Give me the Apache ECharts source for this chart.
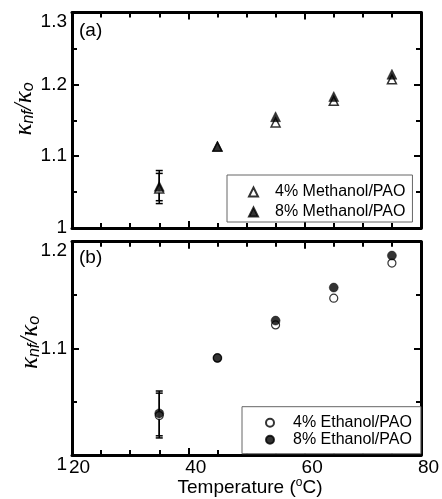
<!DOCTYPE html>
<html>
<head>
<meta charset="utf-8">
<script src="https://cdn.jsdelivr.net/npm/echarts@6/dist/echarts.min.js"></script>
<style>
html,body{margin:0;padding:0;background:#fff;}
#c{width:442px;height:499px;}
</style>
</head>
<body>
<div id="c"></div>
<script>
// ---- data ----
var temps = [35, 45, 55, 65, 75];
var meth4 = [1.055, 1.113, 1.147, 1.177, 1.207];
var meth8 = [1.058, 1.114, 1.155, 1.183, 1.214];
var eth4 = [1.037, 1.091, 1.122, 1.147, 1.180];
var eth8 = [1.039, 1.091, 1.126, 1.157, 1.187];
// error bars at first temperature: [temp, low, high]
var meth4Err = [[35, 1.034, 1.076]];
var meth8Err = [[35, 1.038, 1.080]];
var eth4Err = [[35, 1.016, 1.058]];
var eth8Err = [[35, 1.018, 1.060]];
var xTicks = [20, 40, 60, 80];
var seriesNames = ['4% Methanol/PAO', '8% Methanol/PAO', '4% Ethanol/PAO', '8% Ethanol/PAO'];

function pairs(xs, ys) { return xs.map(function (x, i) { return [x, ys[i]]; }); }

var FONT = 'Liberation Sans, Arial, sans-serif';
var SERIF = 'Liberation Serif, Times New Roman, serif';

function errRender(params, api) {
  var x = api.value(0), lo = api.value(1), hi = api.value(2);
  var p1 = api.coord([x, lo]), p2 = api.coord([x, hi]);
  var w = 3.5;
  var st = { stroke: '#000', lineWidth: 1.5 };
  return {
    type: 'group',
    children: [
      { type: 'line', shape: { x1: p1[0], y1: p1[1], x2: p2[0], y2: p2[1] }, style: st },
      { type: 'line', shape: { x1: p1[0] - w, y1: p1[1], x2: p1[0] + w, y2: p1[1] }, style: st },
      { type: 'line', shape: { x1: p2[0] - w, y1: p2[1], x2: p2[0] + w, y2: p2[1] }, style: st }
    ]
  };
}

function xAx(grid, pos, showLabel) {
  return {
    type: 'value', gridIndex: grid, position: pos, min: 20, max: 80, interval: 20,
    axisLine: { show: true, onZero: false, lineStyle: { color: '#000', width: 3 } },
    axisTick: { show: true, inside: true, length: 7, lineStyle: { color: '#000', width: 2 } },
    minorTick: { show: true, splitNumber: 4, length: 5, lineStyle: { color: '#000', width: 2 } },
    splitLine: { show: false }, minorSplitLine: { show: false },
    axisLabel: {
      show: showLabel, color: '#000', fontSize: 19, fontFamily: FONT, margin: 3,
      padding: [0, 0, 0, 15],
      formatter: function (v) { return xTicks.indexOf(v) >= 0 ? String(v) : ''; }
    }
  };
}
function yAx(grid, pos, min, max, showLabel, minorSplit) {
  return {
    type: 'value', gridIndex: grid, position: pos, min: min, max: max, interval: 0.1,
    axisLine: { show: true, onZero: false, lineStyle: { color: '#000', width: 3 } },
    axisTick: { show: true, inside: true, length: 7, lineStyle: { color: '#000', width: 2 } },
    minorTick: { show: true, splitNumber: minorSplit, length: 5, lineStyle: { color: '#000', width: 2 } },
    splitLine: { show: false }, minorSplitLine: { show: false },
    axisLabel: {
      show: showLabel, color: '#000', fontSize: 19, fontFamily: FONT, margin: 5,
      verticalAlignMaxLabel: 'top',
      verticalAlignMinLabel: grid === 1 ? 'top' : 'middle',
      formatter: function (v) { return String(Math.round(v * 10) / 10); }
    }
  };
}

var openStyle = { color: '#fff', borderColor: '#000', borderWidth: 1.5 };
var fillStyle = { color: '#000', borderColor: '#000', borderWidth: 0.5 };

var kRich = {
  k: { fontSize: 25, fontStyle: 'italic', fontFamily: SERIF, fill: '#000', color: '#000', lineHeight: 34, verticalAlign: 'bottom' },
  s: { fontSize: 16, fontStyle: 'italic', fontFamily: FONT, fill: '#000', color: '#000', lineHeight: 14, verticalAlign: 'bottom' }
};

var chart = echarts.init(document.getElementById('c'), null, { renderer: 'canvas' });
chart.setOption({
  animation: false,
  backgroundColor: '#fff',
  grid: [
    { left: 72, top: 12.5, width: 349, height: 215.5, outerBoundsMode: 'none', containLabel: false },
    { left: 72, top: 241.7, width: 349, height: 213.3, outerBoundsMode: 'none', containLabel: false }
  ],
  xAxis: [xAx(0, 'bottom', false), xAx(0, 'top', false), xAx(1, 'bottom', true), xAx(1, 'top', false)],
  yAxis: [yAx(0, 'left', 1, 1.3, true, 2), yAx(0, 'right', 1, 1.3, false, 2),
          yAx(1, 'left', 1, 1.2, true, 2), yAx(1, 'right', 1, 1.2, false, 2)],
  legend: [
    {
      data: [seriesNames[0], seriesNames[1]], orient: 'vertical', left: 227, top: 175,
      padding: [9, 7, 2, 21], itemWidth: 9, itemHeight: 9, itemGap: 4,
      borderColor: '#666', borderWidth: 1, backgroundColor: '#fff',
      textStyle: { color: '#000', fontSize: 16, fontFamily: FONT, lineHeight: 16, padding: [0, 0, 0, 12] },
      selectedMode: false
    },
    {
      data: [seriesNames[2], seriesNames[3]], orient: 'vertical', left: 242, top: 406.7,
      padding: [8, 9, 6, 23], itemWidth: 8, itemHeight: 8, itemGap: 1,
      borderColor: '#666', borderWidth: 1, backgroundColor: '#fff',
      textStyle: { color: '#000', fontSize: 16, fontFamily: FONT, lineHeight: 15, padding: [0, 0, 0, 14] },
      selectedMode: false
    }
  ],
  graphic: [
    { type: 'text', x: 79, y: 31, style: { text: '(a)', fill: '#000', font: '19px ' + FONT, align: 'left', verticalAlign: 'middle' } },
    { type: 'text', x: 79, y: 258, style: { text: '(b)', fill: '#000', font: '19px ' + FONT, align: 'left', verticalAlign: 'middle' } },
    {
      type: 'text', x: 20, y: 109, rotation: Math.PI / 2,
      style: { text: '{k|κ}{s|nf}{k|/κ}{s|o}', align: 'center', verticalAlign: 'middle', rich: kRich }
    },
    {
      type: 'text', x: 25.5, y: 342.5, rotation: Math.PI / 2,
      style: { text: '{k|κ}{s|nf}{k|/κ}{s|o}', align: 'center', verticalAlign: 'middle', rich: kRich }
    },
    {
      type: 'text', x: 250, y: 488,
      style: {
        text: '{t|Temperature (}{u|o}{t|C)}', align: 'center', verticalAlign: 'middle',
        rich: {
          t: { fontSize: 19, fontFamily: FONT, fill: '#000', color: '#000', lineHeight: 22 },
          u: { fontSize: 12, fontFamily: FONT, fill: '#000', color: '#000', lineHeight: 12, verticalAlign: 'top' }
        }
      }
    }
  ],
  series: [
    { type: 'custom', name: 'errA1', xAxisIndex: 0, yAxisIndex: 0, renderItem: errRender, data: meth4Err, encode: { x: 0, y: [1, 2] }, z: 1 },
    { type: 'custom', name: 'errA2', xAxisIndex: 0, yAxisIndex: 0, renderItem: errRender, data: meth8Err, encode: { x: 0, y: [1, 2] }, z: 1 },
    { type: 'custom', name: 'errB1', xAxisIndex: 2, yAxisIndex: 2, renderItem: errRender, data: eth4Err, encode: { x: 0, y: [1, 2] }, z: 1 },
    { type: 'custom', name: 'errB2', xAxisIndex: 2, yAxisIndex: 2, renderItem: errRender, data: eth8Err, encode: { x: 0, y: [1, 2] }, z: 1 },
    { type: 'scatter', name: seriesNames[0], xAxisIndex: 0, yAxisIndex: 0, data: pairs(temps, meth4), symbol: 'triangle', symbolSize: 9, itemStyle: openStyle, z: 3 },
    { type: 'scatter', name: seriesNames[1], xAxisIndex: 0, yAxisIndex: 0, data: pairs(temps, meth8), symbol: 'triangle', symbolSize: 10, itemStyle: fillStyle, z: 4 },
    { type: 'scatter', name: seriesNames[2], xAxisIndex: 2, yAxisIndex: 2, data: pairs(temps, eth4), symbol: 'circle', symbolSize: 8, itemStyle: { color: '#fff', borderColor: '#000', borderWidth: 1.2 }, z: 3 },
    { type: 'scatter', name: seriesNames[3], xAxisIndex: 2, yAxisIndex: 2, data: pairs(temps, eth8), symbol: 'circle', symbolSize: 9, itemStyle: fillStyle, z: 4 }
  ]
});
</script>
</body>
</html>
